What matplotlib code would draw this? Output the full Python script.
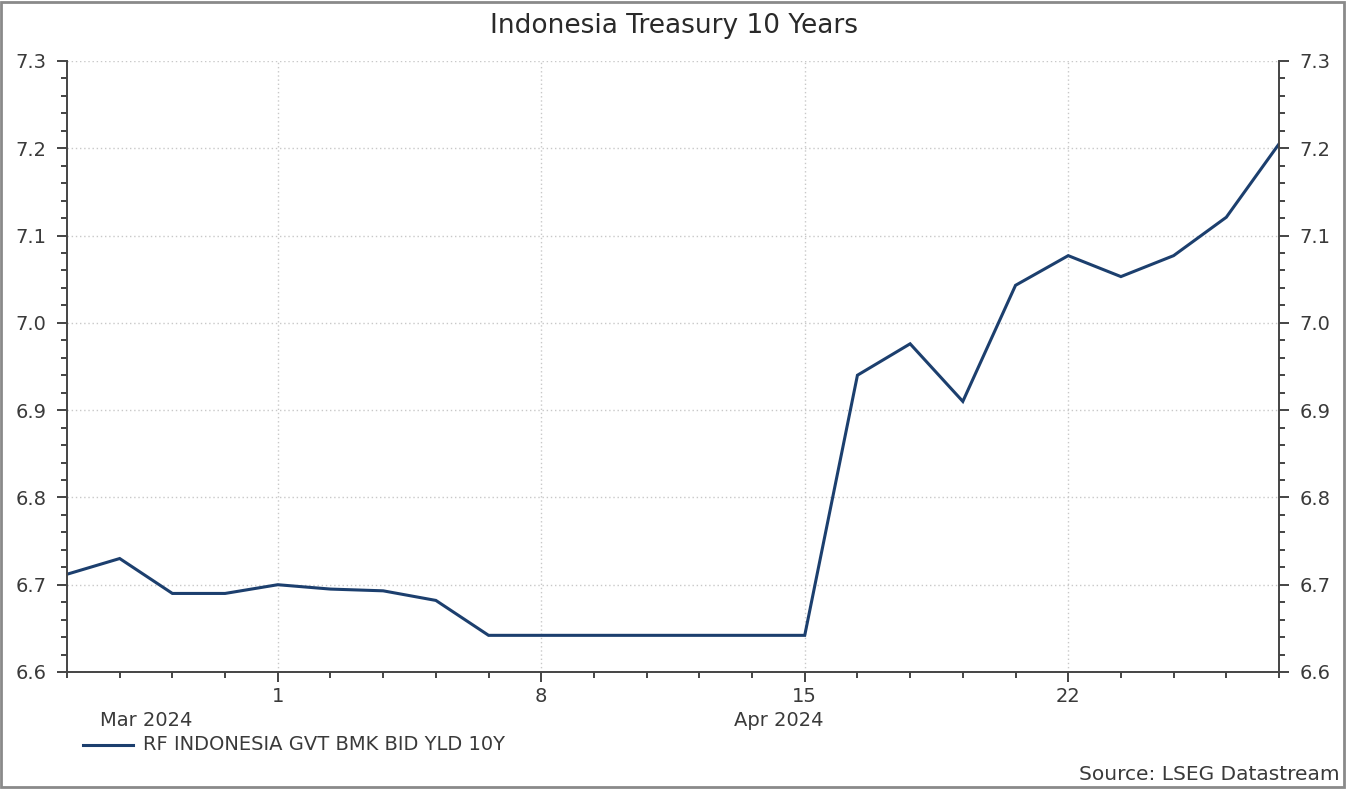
import numpy as np
import pandas as pd
import matplotlib
matplotlib.use("Agg")
import matplotlib.pyplot as plt
from matplotlib.patches import Rectangle
from matplotlib.ticker import MultipleLocator, FixedLocator
import matplotlib.transforms as mtransforms

plt.rcParams['font.family'] = ['DejaVu Sans']

# business days shown on the chart (weekends skipped)
dates = ["2024-03-26", "2024-03-27", "2024-03-28", "2024-03-29",
         "2024-04-01", "2024-04-02", "2024-04-03", "2024-04-04", "2024-04-05",
         "2024-04-08", "2024-04-09", "2024-04-10", "2024-04-11", "2024-04-12",
         "2024-04-15", "2024-04-16", "2024-04-17", "2024-04-18", "2024-04-19",
         "2024-04-22", "2024-04-23", "2024-04-24", "2024-04-25", "2024-04-26"]
yields = [6.712, 6.730, 6.690, 6.690,
          6.700, 6.695, 6.693, 6.682, 6.642,
          6.642, 6.642, 6.642, 6.642, 6.642,
          6.642, 6.940, 6.976, 6.910, 7.043,
          7.077, 7.053, 7.077, 7.121, 7.205]
series_name = "RF INDONESIA GVT BMK BID YLD 10Y"

dt = pd.to_datetime(dates)
x = np.arange(len(dt))

txt = '#3a3a3a'
line_col = '#1c3f6e'

fig = plt.figure(figsize=(13.47, 7.89), dpi=100)
ax = fig.add_axes([67/1347, 1-672/789, (1279-67)/1347, (672-61)/789])

ax.plot(x, yields, color=line_col, lw=2.2, solid_joinstyle='miter')

ax.set_xlim(x[0], x[-1])
ax.set_ylim(6.6, 7.3)

# y axis on both sides
ax.yaxis.set_major_locator(MultipleLocator(0.1))
ax.yaxis.set_minor_locator(MultipleLocator(0.02))
ax.yaxis.set_major_formatter(matplotlib.ticker.FormatStrFormatter('%.1f'))
ax.tick_params(axis='y', which='both', left=True, right=True,
               labelleft=True, labelright=True, direction='out',
               colors='#444444', labelcolor=txt, labelsize=14, width=1.4)
ax.tick_params(axis='y', which='major', length=7, pad=8)
ax.tick_params(axis='y', which='minor', length=4)

# x axis: a tick every business day, labels on Mondays
mondays = [i for i, d in enumerate(dt) if d.weekday() == 0]
ax.xaxis.set_major_locator(FixedLocator(mondays))
ax.xaxis.set_minor_locator(FixedLocator(list(x)))
ax.set_xticklabels([str(dt[i].day) for i in mondays])
ax.tick_params(axis='x', which='both', direction='out', colors='#444444',
               labelcolor=txt, labelsize=14, width=1.4)
ax.tick_params(axis='x', which='major', length=7, pad=4)
ax.tick_params(axis='x', which='minor', length=4)

# month labels centred under each month's span
trans = mtransforms.blended_transform_factory(ax.transData, fig.transFigure)
for per in dt.to_period('M').unique():
    idx = x[dt.to_period('M') == per]
    ax.text(idx.mean(), 1-720/789, per.strftime('%b %Y'), transform=trans,
            ha='center', va='center', fontsize=14, color=txt)

ax.grid(True, which='major', color='#c8c8c8', linestyle=(0, (1, 2)), lw=1.0)

for s in ['left', 'bottom', 'right']:
    ax.spines[s].set_color('#444444')
    ax.spines[s].set_linewidth(1.4)
ax.spines['top'].set_visible(False)

fig.text(0.5, 1-26/789, "Indonesia Treasury 10 Years", ha='center', va='center',
         fontsize=19, color='#2a2a2a')

# legend drawn by hand as in the source chart
fig.add_artist(plt.Line2D([83/1347, 133/1347], [1-745/789, 1-745/789],
                          color=line_col, lw=2.2))
fig.text(143/1347, 1-745/789, series_name, ha='left', va='center',
         fontsize=14, color=txt)

fig.text(1340/1347, 1-774/789, "Source: LSEG Datastream", ha='right', va='center',
         fontsize=14.5, color=txt)

fig.add_artist(Rectangle((0.001, 0.002), 0.997, 0.995, transform=fig.transFigure,
                         fill=False, edgecolor='#8a8a8a', lw=2.0))

fig.savefig("out.png", dpi=100)
